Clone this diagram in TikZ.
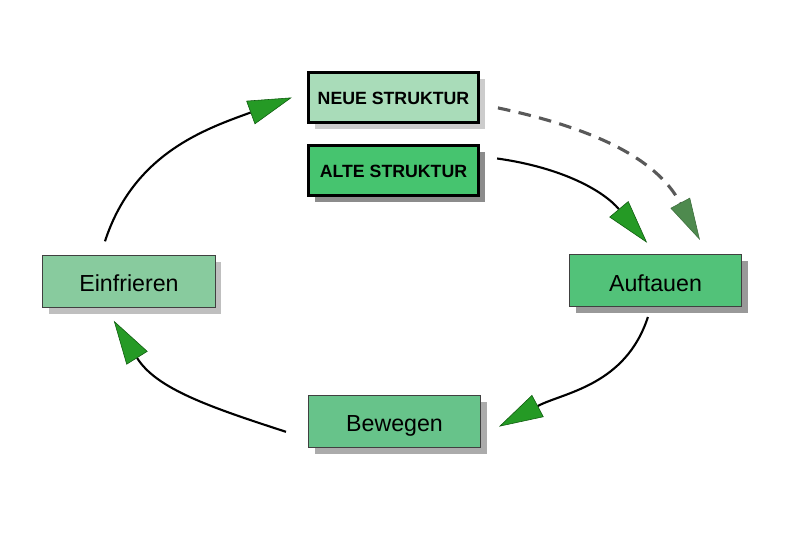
\documentclass[tikz,border=0pt]{standalone}
\usepackage{fontspec}
\setmainfont{Liberation Sans}
\usepackage{tikz}
\usetikzlibrary{shapes,arrows.meta,shadows,calc}
\usetikzlibrary{positioning}
\definecolor{clrNeue}{HTML}{A9DCB9}
\definecolor{clrAlte}{HTML}{46C46F}
\definecolor{clrEin}{HTML}{88CB9E}
\definecolor{clrAuf}{HTML}{52C279}
\definecolor{clrBew}{HTML}{67C38A}
\definecolor{clrCone}{HTML}{259A25}
\definecolor{clrConeDark}{HTML}{0E5A0E}
\definecolor{clrConeGrey}{HTML}{4E8A4E}
\tikzstyle{box_style0}=[draw, anchor=center, text centered, text=black, text depth=0pt]
\tikzstyle{struktur}=[box_style0, line width=2pt, minimum width=4.25cm, minimum height=1.25cm, text height=10.5pt, font=\bfseries\fontsize{12.6}{14}\selectfont]
\tikzstyle{phase}=[box_style0, draw=black!75, line width=0.7pt, minimum width=4.3cm, minimum height=1.3cm, text height=15pt, font=\fontsize{16.5}{19}\selectfont]
\tikzstyle{myshadow}=[drop shadow={shadow xshift=0.16cm, shadow yshift=-0.17cm, opacity=1, fill=#1}]
\tikzstyle{myarrow}=[-{Triangle[length=1.1cm, width=0.62cm, color=clrConeDark, fill=clrCone, line width=0.4pt]}, line width=1.5pt, black]
\tikzstyle{dasharrow}=[-{Triangle[length=1.05cm, width=0.55cm, color=clrConeGrey!80!black, fill=clrConeGrey, line width=0.4pt]}, line width=2.2pt, black!65, dash pattern=on 9pt off 6pt]
\begin{document}
\begin{tikzpicture}[x=0.025cm, y=-0.025cm]
		\useasboundingbox (0,0) rectangle (800,532);

		\node[struktur, fill=clrNeue, myshadow=black!20] (neue) at (393.5,97.5) {NEUE STRUKTUR} ;
		\node[struktur, fill=clrAlte, myshadow=black!45] (alte) at (393.5,170.5) {ALTE STRUKTUR} ;

		\node[phase, fill=clrEin, myshadow=black!25] (ein) at (129,281) {Einfrieren} ;
		\node[phase, fill=clrAuf, myshadow=black!40] (auf) at (655.5,280.5) {Auftauen} ;
		\node[phase, fill=clrBew, myshadow=black!33] (bew) at (394.5,421) {Bewegen} ;

		% Einfrieren -> neue Struktur
		\draw[myarrow] ([xshift=-0.6cm, yshift=0.33cm]ein.north) to[out=72, in=200] ([xshift=-0.38cm]neue.west) ;
		% alte Struktur -> Auftauen
		\draw[myarrow] ([xshift=0.43cm, yshift=0.3cm]alte.east) to[out=-8, in=130] ([xshift=-0.21cm, yshift=0.28cm]auf.north) ;
		\draw[dasharrow] ([xshift=0.45cm, yshift=-0.26cm]neue.east) to[out=-12, in=118] ([xshift=1.11cm, yshift=0.35cm]auf.north) ;
		% Auftauen -> Bewegen
		\draw[myarrow] ([xshift=-0.19cm, yshift=-0.25cm]auf.south) to[out=-108, in=28] ([xshift=0.45cm, yshift=-0.14cm]bew.east) ;
		% Bewegen -> Einfrieren
		\draw[myarrow] ([xshift=-0.55cm, yshift=-0.27cm]bew.west) to[out=162, in=-58] ([xshift=-0.38cm, yshift=-0.33cm]ein.south) ;

	\end{tikzpicture}
\end{document}
